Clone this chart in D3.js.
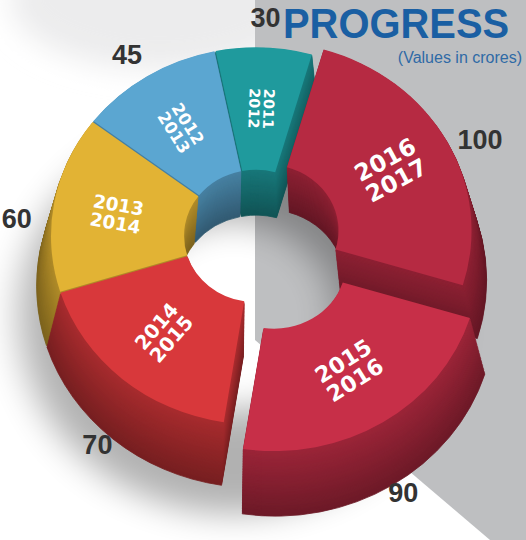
<!DOCTYPE html>
<html>
<head>
<meta charset="utf-8">
<script src="https://cdn.jsdelivr.net/npm/d3@7"></script>
<style>
  body { margin: 0; background: #fff; }
  svg { display: block; }
</style>
</head>
<body>
<div id="chart"></div>
<script>
// data
var years  = ["2011-2012", "2012-2013", "2013-2014", "2014-2015", "2015-2016", "2016-2017"];
var values = [30, 45, 60, 70, 90, 100];
var colors = ["#1f9a9d", "#5ba6d1", "#e2b334", "#d8383b", "#c72f48", "#b62a42"];

var width = 526, height = 540;
var cx = 256, cy = 236, R = 205, r = 72, tilt = 0.92;
var depth = 50, spread = 0.07, layers = 40;
var startDeg = 16;

var data = years.map(function(y, i) { return {year: y, value: values[i], color: colors[i]}; });

var svg = d3.select("#chart")
  .append("svg")
    .attr("width", width)
    .attr("height", height);

var defs = svg.append("defs");
defs.append("filter").attr("id", "blur")
    .attr("x", "-50%").attr("y", "-50%").attr("width", "200%").attr("height", "200%")
  .append("feGaussianBlur").attr("stdDeviation", 18);
defs.append("filter").attr("id", "blur2")
    .attr("x", "-50%").attr("y", "-50%").attr("width", "200%").attr("height", "200%")
  .append("feGaussianBlur").attr("stdDeviation", 14);

// background
svg.append("rect").attr("width", width).attr("height", height).attr("fill", "#fff");
svg.append("ellipse")
    .attr("cx", 160).attr("cy", 0).attr("rx", 150).attr("ry", 70)
    .attr("fill", "#ececed").attr("filter", "url(#blur2)");
svg.append("path")
    .attr("d", "M255,0 L526,0 L526,540 L490,540 L255,340 Z")
    .attr("fill", "#bebfc1");

// soft shadow under the ring (annulus, so the hole stays light)
svg.append("path")
    .attr("d", d3.arc().innerRadius(r + 30).outerRadius(R + 10).startAngle(0).endAngle(2 * Math.PI)())
    .attr("transform", "translate(" + (cx - 22) + "," + (cy + 80) + ") scale(1," + tilt + ")")
    .attr("fill", "#000").attr("opacity", 0.3).attr("filter", "url(#blur)");

var pie = d3.pie()
    .sort(null)
    .value(function(d) { return d.value; })
    .startAngle(startDeg * Math.PI / 180)
    .endAngle(startDeg * Math.PI / 180 - 2 * Math.PI)
    .padAngle(0.006);

var arcs = pie(data);

var arc = d3.arc().innerRadius(r).outerRadius(R);

function explode(d) {
  if (d.data.year === "2015-2016") return 34;
  if (d.data.year === "2016-2017") return 12;
  return 0;
}
function mid(d) { return (d.startAngle + d.endAngle) / 2; }
function offset(d) {
  var a = mid(d), e = explode(d);
  return [Math.sin(a) * e, -Math.cos(a) * e * tilt];
}
function wallColor(d, t) {
  return d3.interpolateRgb(d3.color(d.data.color).darker(0.7), d3.color(d.data.color).darker(1.7))(t);
}

// extruded walls, drawn from the bottom layer up
var walls = svg.append("g");
for (var i = layers; i >= 1; i--) {
  var t = i / layers;
  walls.append("g")
    .selectAll("path")
    .data(arcs)
    .join("path")
      .attr("d", arc)
      .attr("transform", function(d) {
        var o = offset(d), s = 1 + spread * t;
        return "translate(" + (cx + o[0] * s) + "," + (cy + o[1] * s + depth * t) + ") scale(" + s + "," + (s * tilt) + ")";
      })
      .attr("fill", function(d) { return wallColor(d, t); })
      .attr("stroke", function(d) { return wallColor(d, t); })
      .attr("stroke-width", 0.8);
}

// top faces
svg.append("g")
  .selectAll("path")
  .data(arcs)
  .join("path")
    .attr("d", arc)
    .attr("transform", function(d) {
      var o = offset(d);
      return "translate(" + (cx + o[0]) + "," + (cy + o[1]) + ") scale(1," + tilt + ")";
    })
    .attr("fill", function(d) { return d.data.color; });

// year labels on the slices
var fontSize = d3.scaleLinear().domain([30, 100]).range([14.5, 23.5]);

function labelRot(d) {
  var deg = mid(d) * 180 / Math.PI - 90;
  deg = ((deg % 360) + 360) % 360;
  if (deg > 180) deg -= 360;
  if (deg > 90) deg -= 180;
  if (deg < -90) deg += 180;
  if (deg < -80) deg += 180;
  if (Math.abs(deg) > 50 && Math.abs(d.endAngle - d.startAngle) > 1.2) deg -= Math.sign(deg) * 90;
  return deg;
}

var labels = svg.append("g")
    .attr("font-family", "'DejaVu Sans', Verdana, sans-serif")
    .attr("font-weight", "bold")
    .attr("fill", "#fff")
    .attr("text-anchor", "middle")
  .selectAll("text")
  .data(arcs)
  .join("text")
    .attr("font-size", function(d) { return fontSize(d.data.value); })
    .attr("transform", function(d) {
      var o = offset(d), c = arc.centroid(d);
      var x = cx + o[0] + c[0] * 1.02, y = cy + o[1] + c[1] * tilt;
      return "translate(" + x + "," + y + ") rotate(" + labelRot(d) + ")";
    });

labels.selectAll("tspan")
  .data(function(d) {
    return d.data.year.split("-").map(function(s) { return {s: s, fs: fontSize(d.data.value)}; });
  })
  .join("tspan")
    .attr("x", 0)
    .attr("y", function(p, j) { return (j - 0.5) * p.fs + p.fs * 0.36; })
    .text(function(p) { return p.s; });

// value labels around the ring
svg.append("g")
    .attr("font-family", "'Liberation Sans', Arial, sans-serif")
    .attr("font-weight", "bold")
    .attr("font-size", 27)
    .attr("fill", "#333")
    .attr("text-anchor", "middle")
  .selectAll("text")
  .data(arcs)
  .join("text")
    .attr("x", function(d) { return cx + offset(d)[0] + Math.sin(mid(d)) * (R + 38); })
    .attr("y", function(d) {
      var a = mid(d);
      return cy + offset(d)[1] - Math.cos(a) * (R + 32) * tilt + depth * (0.5 - 0.5 * Math.cos(a)) + 9;
    })
    .text(function(d) { return d.data.value; });

// title
svg.append("text")
    .attr("transform", "translate(283,38) scale(0.95,1)")
    .attr("font-family", "'Liberation Sans', Arial, sans-serif")
    .attr("font-weight", "bold")
    .attr("font-size", 42)
    .attr("fill", "#1a5fa3")
    .text("PROGRESS");

svg.append("text")
    .attr("x", 522)
    .attr("y", 63)
    .attr("text-anchor", "end")
    .attr("font-family", "'Liberation Sans', Arial, sans-serif")
    .attr("font-size", 16)
    .attr("fill", "#2f6aa6")
    .text("(Values in crores)");
</script>
</body>
</html>
